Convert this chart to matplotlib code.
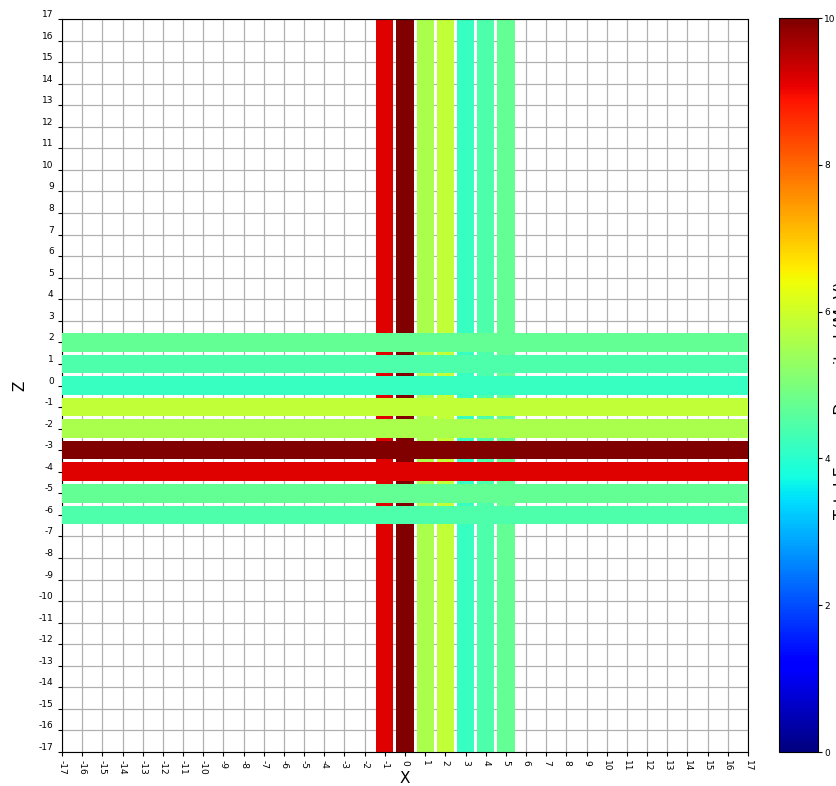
import numpy as np
from matplotlib import pyplot as plt
from matplotlib import cm, colors

# strip energies (MeV)
x_pos = [-1, 0, 1, 2, 3, 4, 5]
x_energy = [9.15, 10.0, 5.55, 5.85, 4.15, 4.45, 4.7]
z_pos = [2, 1, 0, -1, -2, -3, -4, -5, -6]
z_energy = [4.7, 4.45, 4.15, 5.85, 5.55, 10.0, 9.15, 4.7, 4.45]
ticks = list(range(-17, 18))

W, H = 837, 786
fig = plt.figure(figsize=(W / 100, H / 100), dpi=100)
ax = fig.add_axes([62 / W, 34 / H, 686 / W, 733 / H])
cax = fig.add_axes([779 / W, 34 / H, 39 / W, 734 / H])

cmap = plt.get_cmap('jet')
norm = colors.Normalize(vmin=0, vmax=10)

lo, hi = ticks[0], ticks[-1]
ax.bar(x_pos, hi - lo, bottom=lo, width=0.86,
       color=cmap(norm(np.array(x_energy))), zorder=2)
ax.barh(z_pos, hi - lo, left=lo, height=0.86,
        color=cmap(norm(np.array(z_energy))), zorder=3)

ax.set_xlim(lo, hi)
ax.set_ylim(lo, hi)
ax.set_xticks(ticks)
ax.set_xticklabels([str(t) for t in ticks], rotation=-90, fontsize=6.5)
ax.set_yticks(ticks)
ax.set_yticklabels([str(t) for t in ticks], fontsize=6.5)
for lab in ax.get_yticklabels():
    lab.set_verticalalignment('bottom')
ax.tick_params(length=3, width=0.8, pad=3)
ax.grid(True, color='#b0b0b0', linewidth=0.9, zorder=0)
ax.set_axisbelow(True)
ax.set_xlabel('X', fontsize=11, labelpad=-3)
ax.set_ylabel('Z', fontsize=11, labelpad=8)

sm = cm.ScalarMappable(norm=norm, cmap=cmap)
cb = fig.colorbar(sm, cax=cax, ticks=[0, 2, 4, 6, 8, 10])
cb.ax.tick_params(labelsize=6.5, length=3, pad=1.5)
cb.set_label('Total Energy Deposited (MeV)', fontsize=11.5,
             rotation=90, va='top', ha='center')
# label sits right at the figure edge, as in the original
cb.ax.yaxis.set_label_coords((834.5 - 779) / 39, 0.48)

fig.savefig('out.png', dpi=100)
